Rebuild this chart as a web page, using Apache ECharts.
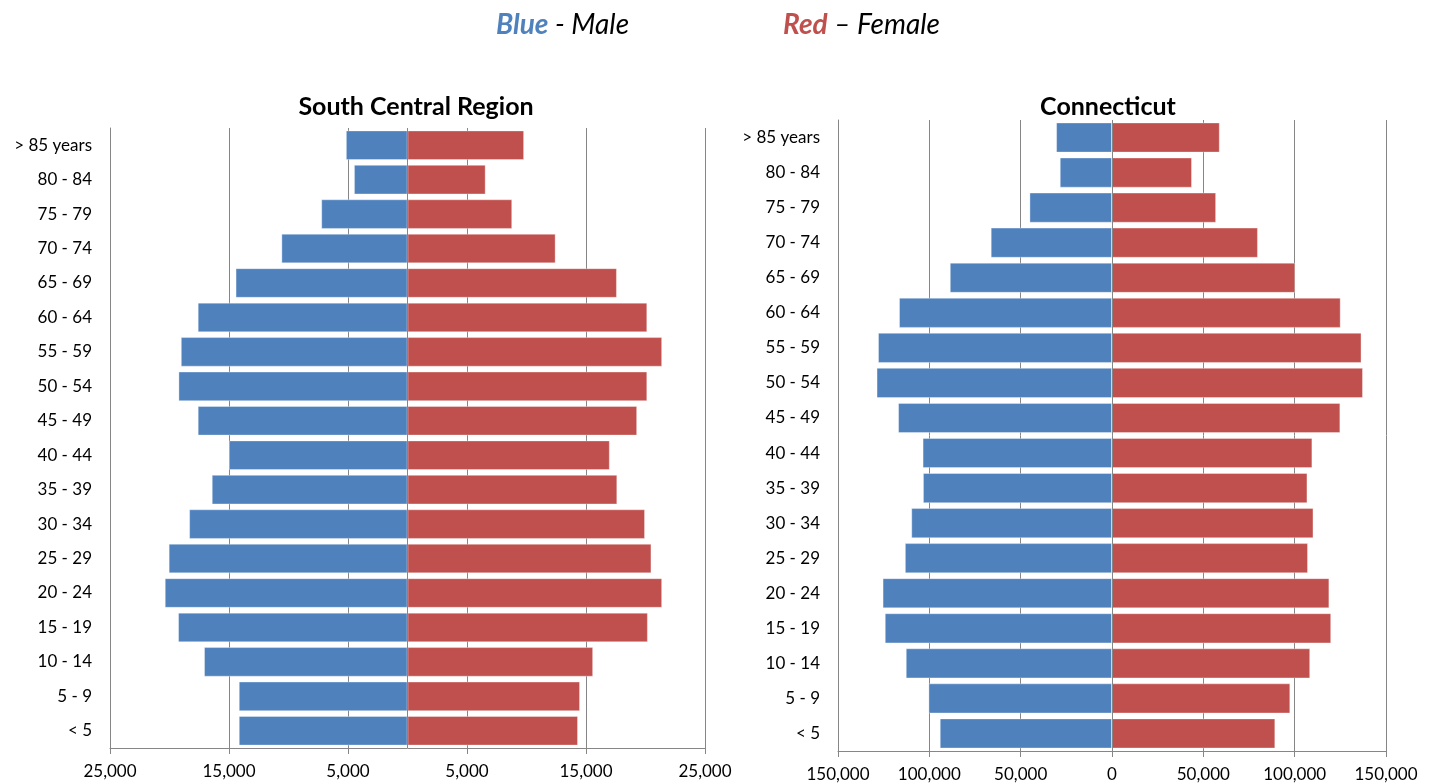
<!DOCTYPE html>
<html>
<head>
<meta charset="utf-8">
<title>Population pyramids</title>
<script src="https://cdn.jsdelivr.net/npm/echarts@6/dist/echarts.min.js"></script>
<style>
  html, body { margin: 0; padding: 0; background: #ffffff; }
  #chart { width: 1430px; height: 784px; }
</style>
</head>
<body>
<div id="chart"></div>
<script>
// Age groups, bottom to top
const ageGroups = ['< 5', '5 - 9', '10 - 14', '15 - 19', '20 - 24', '25 - 29', '30 - 34', '35 - 39',
  '40 - 44', '45 - 49', '50 - 54', '55 - 59', '60 - 64', '65 - 69', '70 - 74', '75 - 79', '80 - 84', '> 85 years'];

// South Central Region
const regionMale   = [14180, 14180, 17100, 19280, 20400, 20070, 18350, 16450, 15000, 17630, 19250, 19050, 17630, 14450, 10600, 7250, 4500, 5180];
const regionFemale = [14330, 14500, 15600, 20200, 21400, 20500, 19960, 17630, 17000, 19300, 20150, 21400, 20150, 17600, 12450, 8800, 6570, 9800];

// Connecticut
const stateMale   = [94300, 100500, 112900, 124400, 125600, 113400, 109900, 103500, 103700, 117100, 128900, 128100, 116600, 88800, 66400, 45200, 28600, 30600];
const stateFemale = [89400, 97600, 108500, 120000, 119000, 107300, 110300, 107000, 109700, 125000, 137400, 136600, 125200, 100300, 79900, 57000, 43800, 59000];

// Tick values for the two population axes
const regionTicks = [-25000, -15000, -5000, 5000, 15000, 25000];
const stateTicks  = [-150000, -100000, -50000, 0, 50000, 100000, 150000];

const BLUE = '#4F81BD';
const RED = '#C0504D';
const GRID_GRAY = '#868686';
const FONT = 'Lato, "Open Sans", sans-serif';

const fmt = v => Math.abs(v).toLocaleString('en-US');

function popAxis(gridIndex, ticks) {
  return {
    type: 'value',
    gridIndex: gridIndex,
    min: ticks[0],
    max: ticks[ticks.length - 1],
    axisLine: { show: true, onZero: false, lineStyle: { color: GRID_GRAY, width: 1 } },
    axisTick: { show: true, length: 6, customValues: ticks, lineStyle: { color: GRID_GRAY } },
    axisLabel: { customValues: ticks, formatter: fmt, color: '#000', fontSize: 17, fontFamily: FONT, margin: 15 },
    splitLine: { show: true, lineStyle: { color: GRID_GRAY, width: 1 } }
  };
}

function ageAxis(gridIndex) {
  return {
    type: 'category',
    gridIndex: gridIndex,
    data: ageGroups,
    axisLine: { show: true, onZero: false, lineStyle: { color: GRID_GRAY, width: 1 } },
    axisTick: { show: false },
    axisLabel: { color: '#000', fontSize: 17, fontFamily: FONT, margin: 18 }
  };
}

const centerLine = {
  silent: true,
  symbol: 'none',
  label: { show: false },
  lineStyle: { color: GRID_GRAY, width: 1, type: 'solid' },
  data: [{ xAxis: 0 }],
  z: 5
};

function pyramidSeries(axisIndex, male, female, stackName) {
  const common = {
    type: 'bar',
    stack: stackName,
    xAxisIndex: axisIndex,
    yAxisIndex: axisIndex,
    barCategoryGap: '14%',
    silent: true
  };
  return [
    Object.assign({}, common, {
      name: 'Male',
      data: male.map(v => -v),
      itemStyle: { color: BLUE, borderColor: 'rgba(255,255,255,0.35)', borderWidth: 1 },
      markLine: centerLine
    }),
    Object.assign({}, common, {
      name: 'Female',
      data: female,
      itemStyle: { color: RED, borderColor: 'rgba(255,255,255,0.35)', borderWidth: 1 }
    })
  ];
}

const chart = echarts.init(document.getElementById('chart'), null, { renderer: 'canvas' });

chart.setOption({
  backgroundColor: '#ffffff',
  animation: false,
  title: [
    {
      text: '{b|Blue}{i| - Male}',
      left: 491, top: 6,
      textStyle: {
        rich: {
          b: { color: BLUE, fontSize: 28, fontStyle: 'italic', fontWeight: 'bold', fontFamily: FONT },
          i: { color: '#000', fontSize: 28, fontStyle: 'italic', fontWeight: 'normal', fontFamily: FONT }
        }
      }
    },
    {
      text: '{r|Red}{i| \u2013 Female}',
      left: 778, top: 6,
      textStyle: {
        rich: {
          r: { color: RED, fontSize: 28, fontStyle: 'italic', fontWeight: 'bold', fontFamily: FONT },
          i: { color: '#000', fontSize: 28, fontStyle: 'italic', fontWeight: 'normal', fontFamily: FONT }
        }
      }
    },
    {
      text: 'South Central Region',
      left: 411, top: 89, textAlign: 'center',
      textStyle: { color: '#000', fontSize: 25, fontWeight: 'bold', fontFamily: FONT }
    },
    {
      text: 'Connecticut',
      left: 1103, top: 89, textAlign: 'center',
      textStyle: { color: '#000', fontSize: 25, fontWeight: 'bold', fontFamily: FONT }
    }
  ],
  grid: [
    { left: 110, right: 725, top: 128, bottom: 36 },
    { left: 838, right: 44, top: 120, bottom: 33 }
  ],
  xAxis: [popAxis(0, regionTicks), popAxis(1, stateTicks)],
  yAxis: [ageAxis(0), ageAxis(1)],
  series: [].concat(
    pyramidSeries(0, regionMale, regionFemale, 'region'),
    pyramidSeries(1, stateMale, stateFemale, 'state')
  )
});
</script>
</body>
</html>
